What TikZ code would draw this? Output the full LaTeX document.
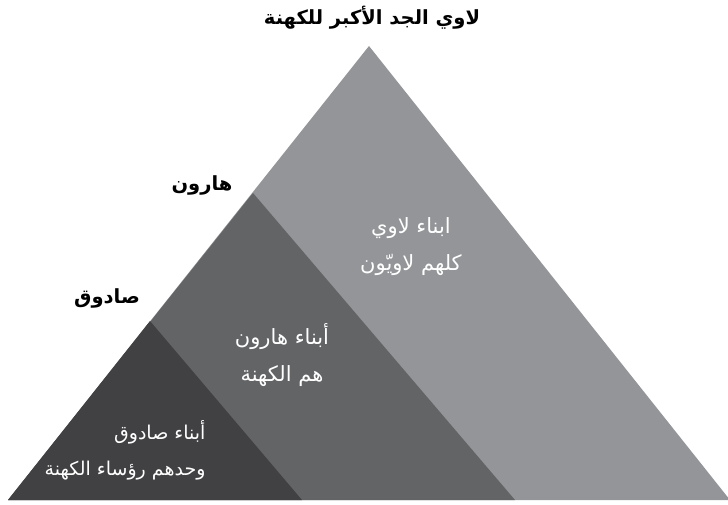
\documentclass[tikz,border=0pt]{standalone}
\usepackage{fontspec}
\usepackage{tikz}
\usetikzlibrary{positioning}
\TeXXeTstate=1
\newfontfamily\arabicfont[Script=Arabic]{DejaVu Sans}
\definecolor{levigray}{RGB}{147,149,152}
\definecolor{aarongray}{RGB}{99,100,102}
\definecolor{zadokgray}{RGB}{65,64,66}
\tikzset{
  title/.style={font=\arabicfont\bfseries\fontsize{19.5}{22}\selectfont,text=black},
  inner/.style={font=\arabicfont\fontsize{21}{37}\selectfont,text=white,align=center},
}

\begin{document}
\begin{tikzpicture}[x=1pt,y=-1pt]
\useasboundingbox (0,0) rectangle (728,504);
\coordinate (levi) at (369,46);
\coordinate (aaron) at (253,193);
\coordinate (zadok) at (150,321);
\coordinate (bl) at (8,500);
\coordinate (br) at (730,500);
\coordinate (mr) at (515,500);
\coordinate (sr) at (302,500);
\fill[levigray] (levi) -- (bl) -- (br) -- cycle;
\fill[aarongray] (aaron) -- (bl) -- (mr) -- cycle;
\fill[zadokgray] (zadok) -- (bl) -- (sr) -- cycle;
\node[title] (levitext) at (372,18) {\beginR لاوي الجد الأكبر للكهنة\endR};
\node[title] (aarontext) at (202,185) {\beginR هارون\endR};
\node[title] (zadoktext) at (107,298) {\beginR صادوق\endR};
\node[inner] (levisons) at (411,247) {\beginR ابناء لاوي\endR\\\beginR كلهم لاويّون\endR};
\node[inner] (aaronsons) at (282,355) {\beginR أبناء هارون\endR\\\beginR هم الكهنة\endR};
\node[inner,font=\arabicfont\fontsize{19}{36}\selectfont,align=right,anchor=east] (zadoksons) at (209,450) {\beginR أبناء صادوق\endR\\\beginR وحدهم رؤساء الكهنة\endR};
\end{tikzpicture}
\end{document}
